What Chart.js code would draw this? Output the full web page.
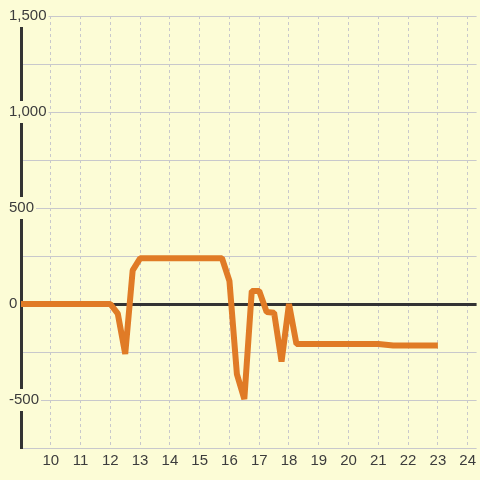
<!DOCTYPE html>
<html>
<head>
<meta charset="utf-8">
<script src="https://cdn.jsdelivr.net/npm/chart.js@4.4.1/dist/chart.umd.min.js"></script>
<style>
  html, body { margin: 0; padding: 0; background: #fcfcd6; }
  canvas { display: block; }
</style>
</head>
<body>
<canvas id="chart" width="480" height="480"></canvas>
<script>
// values
const xValues = [9, 12, 12.25, 12.5, 12.75, 13, 15.75, 16, 16.25, 16.5, 16.75, 17, 17.25, 17.5, 17.75, 18, 18.25, 21, 21.5, 23];
const yValues = [0, 0, -50, -260, 175, 238, 238, 120, -365, -495, 68, 68, -42, -45, -300, 0, -208, -208, -216, -216];
const xTicks = [10, 11, 12, 13, 14, 15, 16, 17, 18, 19, 20, 21, 22, 23, 24];
const yMin = -750, yMax = 1500, yStep = 250, yLabelStep = 500;

const bg = '#fcfcd6';
const gridGray = '#c8c8cc';
const dark = '#333333';

Chart.defaults.font.family = "'Liberation Sans', Arial, sans-serif";
Chart.defaults.font.size = 15;
Chart.defaults.color = '#3c3c3c';

new Chart(document.getElementById('chart').getContext('2d'), {
    type: 'line',
    data: {
        datasets: [{
            data: xValues.map((x, i) => ({ x: x, y: yValues[i] })),
            borderColor: '#e07b26',
            borderWidth: 6,
            borderJoinStyle: 'bevel',
            pointRadius: 0,
            tension: 0,
            fill: false
        }]
    },
    options: {
        responsive: false,
        animation: false,
        layout: {
            padding: { left: 21, top: 16, right: 0, bottom: 6 }
        },
        plugins: {
            legend: { display: false },
            tooltip: { enabled: false }
        },
        scales: {
            x: {
                type: 'linear',
                min: 9,
                max: 24.3,
                afterBuildTicks: (scale) => {
                    scale.ticks = xTicks.map(v => ({ value: v }));
                },
                grid: {
                    color: gridGray,
                    lineWidth: 1,
                    drawTicks: false
                },
                border: {
                    display: false,
                    dash: [3, 3]
                },
                ticks: {
                    padding: 4,
                    maxRotation: 0,
                    autoSkip: false
                }
            },
            y: {
                min: yMin,
                max: yMax,
                grid: {
                    // tick marks are invisible; their length cancels the negative label padding
                    drawTicks: true,
                    tickLength: 24,
                    tickColor: 'rgba(0,0,0,0)',
                    color: (ctx) => ctx.tick && ctx.tick.value === 0 ? dark : gridGray,
                    lineWidth: (ctx) => ctx.tick && ctx.tick.value === 0 ? 3 : 1
                },
                border: {
                    display: true,
                    color: dark,
                    width: 3
                },
                ticks: {
                    stepSize: yStep,
                    mirror: true,
                    padding: -12,
                    showLabelBackdrop: true,
                    backdropPadding: 2,
                    backdropColor: (ctx) => ctx.tick && ctx.tick.value % yLabelStep === 0 ? bg : 'rgba(0,0,0,0)',
                    callback: (v) => v % yLabelStep === 0 ? v.toLocaleString('en-US') : ''
                }
            }
        }
    }
});
</script>
</body>
</html>
